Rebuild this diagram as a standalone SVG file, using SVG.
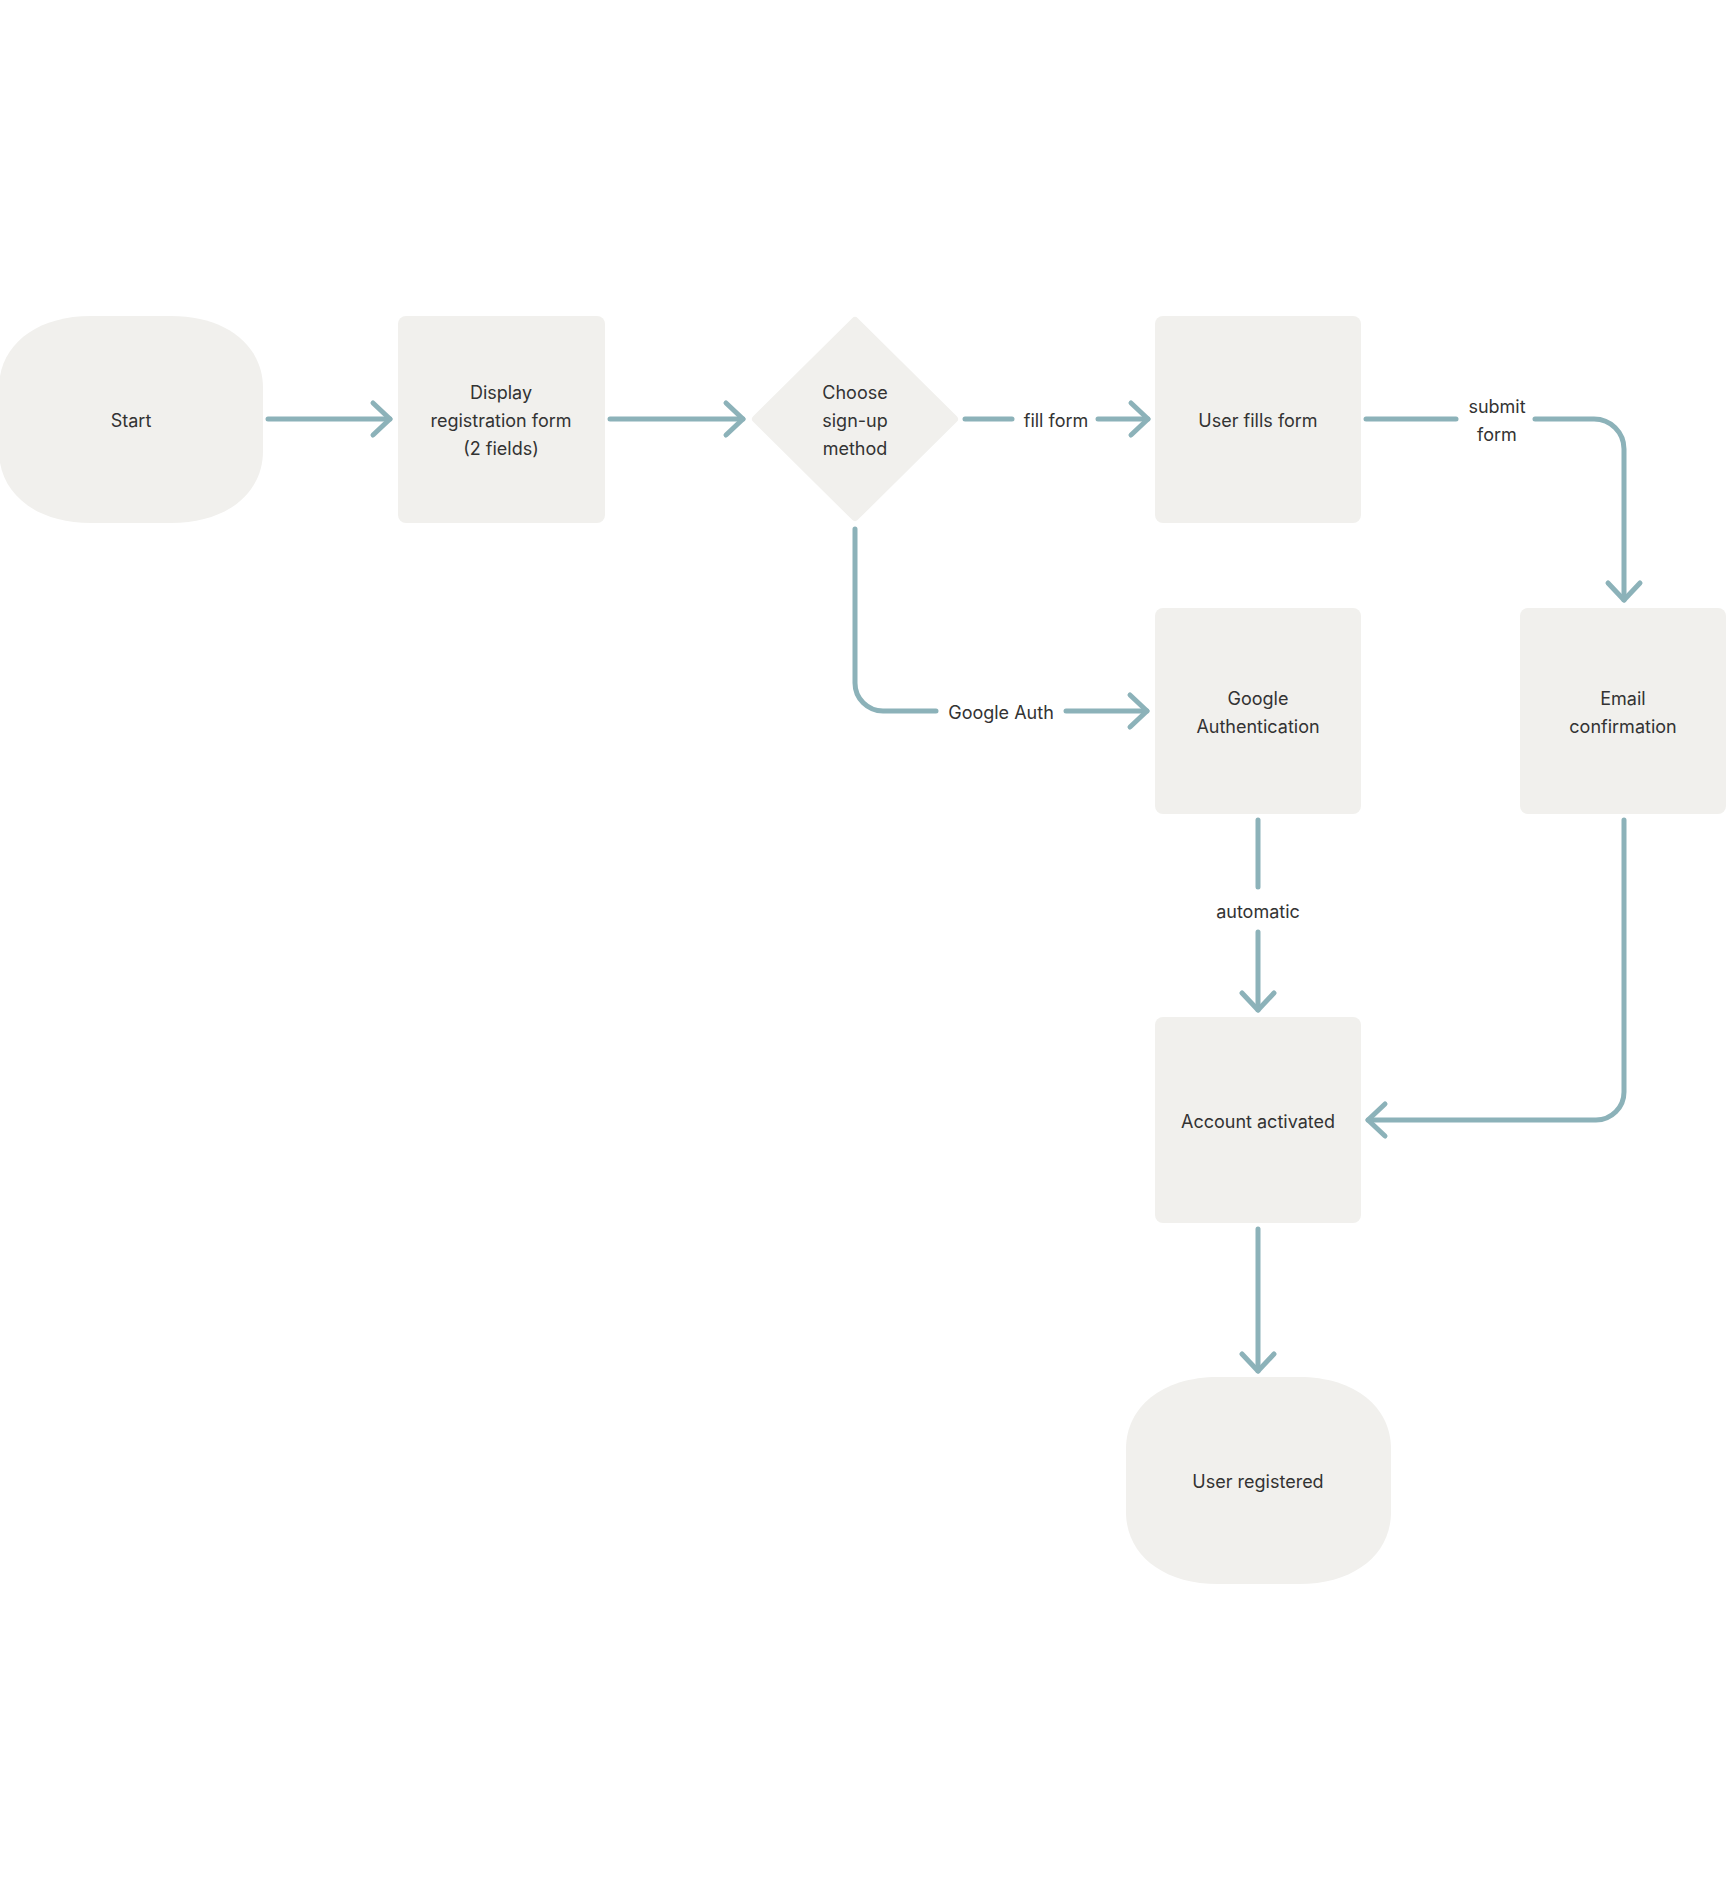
<svg xmlns="http://www.w3.org/2000/svg" width="1728" height="1904" viewBox="0 0 1728 1904">
  <defs>
    <style>
      .node { fill: #F1F0ED; }
      .txt { font-family: Inter, "Noto Sans", "Liberation Sans", sans-serif; font-size: 18px; fill: #333333; text-anchor: middle; }
      .conn { fill: none; stroke: #8CB2B9; stroke-width: 5; stroke-linecap: round; stroke-linejoin: round; }
    </style>
    <marker id="arr" markerUnits="userSpaceOnUse" viewBox="-22 -22 44 44" markerWidth="44" markerHeight="44" refX="0" refY="0" orient="auto">
      <path d="M -17 -16 L 0 0 L -17 16" fill="none" stroke="#8CB2B9" stroke-width="5" stroke-linecap="round" stroke-linejoin="round"/>
    </marker>
  </defs>
  <rect width="1728" height="1904" fill="#FFFFFF"/>

  <g id="connectors">
    <path class="conn" d="M268 419 H390" marker-end="url(#arr)"/>
    <path class="conn" d="M610 419 H743" marker-end="url(#arr)"/>
    <path class="conn" d="M965 419 H1012"/>
    <path class="conn" d="M1098 419 H1148" marker-end="url(#arr)"/>
    <text class="txt" x="1056" y="426.5">fill form</text>
    <path class="conn" d="M1366 419 H1456"/>
    <path class="conn" d="M1535 419 H1594 A30 30 0 0 1 1624 449 V600" marker-end="url(#arr)"/>
    <text class="txt" x="1497" y="412.5">submit</text>
    <text class="txt" x="1497" y="440.5">form</text>
    <path class="conn" d="M855 529 V683 A28 28 0 0 0 883 711 H936"/>
    <path class="conn" d="M1066 711 H1147" marker-end="url(#arr)"/>
    <text class="txt" x="1001" y="718.5">Google Auth</text>
    <path class="conn" d="M1258 820 V887"/>
    <path class="conn" d="M1258 932 V1010" marker-end="url(#arr)"/>
    <text class="txt" x="1258" y="917.5">automatic</text>
    <path class="conn" d="M1624 820 V1092 A28 28 0 0 1 1596 1120 H1368" marker-end="url(#arr)"/>
    <path class="conn" d="M1258 1229 V1371" marker-end="url(#arr)"/>
  </g>

  <g id="start">
    <path class="node" d="M91 316 H171 C227 316, 263 346, 263 388 V451 C263 493, 227 523, 171 523 H91 C35 523, -1 493, -1 451 V388 C-1 346, 35 316, 91 316 Z"/>
    <text class="txt" x="131" y="426.5">Start</text>
  </g>
  <g id="display-form">
    <rect class="node" x="398" y="316" width="207" height="207" rx="8"/>
    <text class="txt" x="501" y="398.5">Display</text>
    <text class="txt" x="501" y="426.5">registration form</text>
    <text class="txt" x="501" y="454.5">(2 fields)</text>
  </g>
  <g id="choose-method">
    <polygon class="node" points="855,321 954,419 855,517 756,419" stroke="#F1F0ED" stroke-width="8" stroke-linejoin="round"/>
    <text class="txt" x="855" y="398.5">Choose</text>
    <text class="txt" x="855" y="426.5">sign-up</text>
    <text class="txt" x="855" y="454.5">method</text>
  </g>
  <g id="user-fills-form">
    <rect class="node" x="1155" y="316" width="206" height="207" rx="8"/>
    <text class="txt" x="1258" y="426.5">User fills form</text>
  </g>
  <g id="google-auth">
    <rect class="node" x="1155" y="608" width="206" height="206" rx="8"/>
    <text class="txt" x="1258" y="704.5">Google</text>
    <text class="txt" x="1258" y="732.5">Authentication</text>
  </g>
  <g id="email-confirmation">
    <rect class="node" x="1520" y="608" width="206" height="206" rx="8"/>
    <text class="txt" x="1623" y="704.5">Email</text>
    <text class="txt" x="1623" y="732.5">confirmation</text>
  </g>
  <g id="account-activated">
    <rect class="node" x="1155" y="1017" width="206" height="206" rx="8"/>
    <text class="txt" x="1258" y="1127.5">Account activated</text>
  </g>
  <g id="user-registered">
    <path class="node" d="M1218 1377 H1299 C1355 1377, 1391 1407, 1391 1449 V1512 C1391 1554, 1355 1584, 1299 1584 H1218 C1162 1584, 1126 1554, 1126 1512 V1449 C1126 1407, 1162 1377, 1218 1377 Z"/>
    <text class="txt" x="1258" y="1487.5">User registered</text>
  </g>
</svg>
